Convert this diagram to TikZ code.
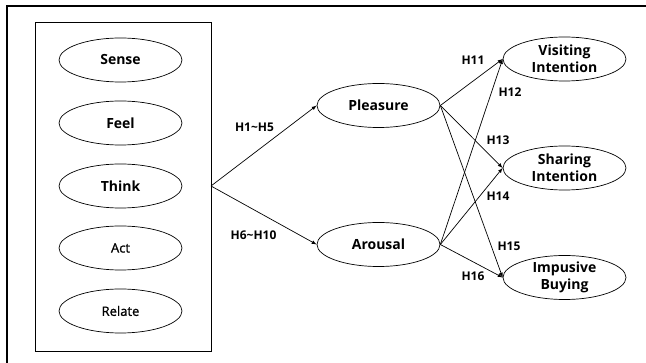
\documentclass[tikz,border=0pt]{standalone}
\usepackage{fontspec}
\setmainfont{Open Sans}
\newfontfamily\semifont[FakeBold=1.2]{Open Sans}
\usetikzlibrary{shapes.geometric}
\tikzset{
	every node/.style = {font=\bfseries\fontsize{14}{17}\selectfont},
	factor/.style = {ellipse, draw, line width=0.7pt, minimum width=123pt, minimum height=44pt, inner sep=0pt, align=center},
	light/.style = {font=\semifont\fontsize{13}{16}\selectfont},
	hyp/.style = {font=\bfseries\fontsize{12}{14}\selectfont, inner sep=0pt},
	link/.style = {->, >=latex, line width=0.7pt}
}

\begin{document}
\begin{tikzpicture}[x=1pt, y=-1pt]
		\useasboundingbox (0,0) rectangle (646,363);
		% frame
		\draw[line width=2pt] (6.5,363) -- (6.5,6.5) -- (646,6.5);
		
		% experience
		\draw[line width=0.7pt] (35,22) rectangle (211,351);
		\node[factor] (sense) at (120.5,60) {Sense};
		\node[factor] (feel) at (120.5,123) {Feel};
		\node[factor] (think) at (120.5,186) {Think};
		\node[factor, light] (act) at (120.5,248) {Act};
		\node[factor, light] (relate) at (120.5,311) {Relate};
		\coordinate (sem) at (211,186);
		
		% emotion
		\node[factor] (pleasure) at (378.5,105.5) {Pleasure};
		\node[factor] (arousal) at (378.5,244.5) {Arousal};
		
		% outcome
		\node[factor] (visit) at (564.5,59) {Visiting\\Intention};
		\node[factor] (share) at (564.5,168) {Sharing\\Intention};
		\node[factor] (buy) at (564.5,277.5) {Impusive\\Buying};
		
		% paths
		\draw[link] (sem) -- (pleasure.west);
		\draw[link] (sem) -- (arousal.west);
		\draw[link] (pleasure.east) -- (visit.west);
		\draw[link] (pleasure.east) -- (share.west);
		\draw[link] (pleasure.east) -- (buy.west);
		\draw[link] (arousal.east) -- (visit.west);
		\draw[link] (arousal.east) -- (share.west);
		\draw[link] (arousal.east) -- (buy.west);
		
		% hypotheses
		\node[hyp] (h1) at (254.5,127.5) {H1\textasciitilde H5};
		\node[hyp] (h6) at (253.5,235) {H6\textasciitilde H10};
		\node[hyp] (h11) at (473,60) {H11};
		\node[hyp] (h12) at (510,92) {H12};
		\node[hyp] (h13) at (498,140) {H13};
		\node[hyp] (h14) at (498,196) {H14};
		\node[hyp] (h15) at (509,246) {H15};
		\node[hyp] (h16) at (473,276) {H16};
	\end{tikzpicture}
\end{document}
